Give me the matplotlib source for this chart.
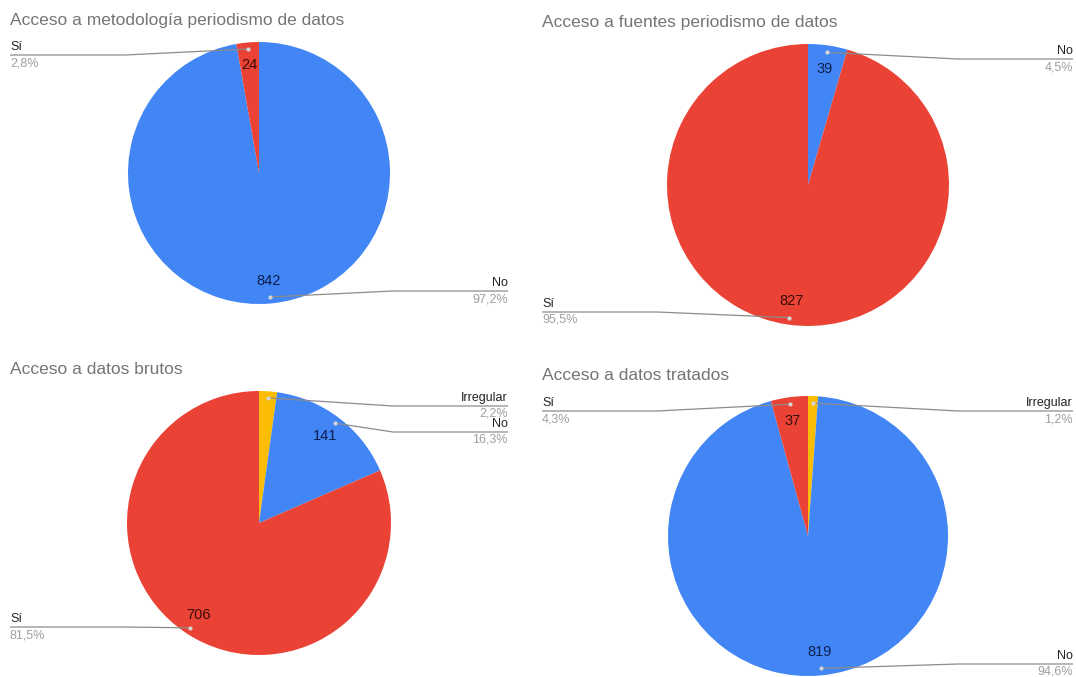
import numpy as np
import matplotlib
matplotlib.use('Agg')
import matplotlib.pyplot as plt

plt.rcParams['font.family'] = ['Liberation Sans', 'DejaVu Sans']

W, H = 1076, 677

# Data
titles = ['Acceso a metodología periodismo de datos',
          'Acceso a fuentes periodismo de datos',
          'Acceso a datos brutos',
          'Acceso a datos tratados']

cats_meto = ['No', 'Sí']
vals_meto = [842, 24]

cats_fuentes = ['No', 'Sí']
vals_fuentes = [39, 827]

cats_brutos = ['Irregular', 'No', 'Sí']
vals_brutos = [19, 141, 706]

cats_tratados = ['Irregular', 'No', 'Sí']
vals_tratados = [10, 819, 37]

colors = {'No': '#4285F4', 'Sí': '#EA4335', 'Irregular': '#FBBC04'}
value_colors = {'No': '#0c1f4d', 'Sí': '#3a0b06', 'Irregular': '#3a2c00'}

# Layout in pixel space (y measured from top)
panels = [
    dict(cats=cats_meto, vals=vals_meto, c=(259, 173), r=131, tx=10, ty=20,
         left=10, right=508, leaders={'Sí': ('l', 55), 'No': ('r', 291)}),
    dict(cats=cats_fuentes, vals=vals_fuentes, c=(808, 185), r=141, tx=542, ty=22,
         left=542, right=1073, leaders={'No': ('r', 59), 'Sí': ('l', 312)}),
    dict(cats=cats_brutos, vals=vals_brutos, c=(259, 523), r=132, tx=10, ty=370,
         left=10, right=508, leaders={'Irregular': ('r', 406), 'No': ('r', 432), 'Sí': ('l', 627)}),
    dict(cats=cats_tratados, vals=vals_tratados, c=(808, 536), r=140, tx=542, ty=376,
         left=542, right=1073, leaders={'Sí': ('l', 411), 'Irregular': ('r', 411), 'No': ('r', 664)}),
]


def fy(y):
    return H - y


fig = plt.figure(figsize=(W / 100, H / 100), dpi=100)
ax = fig.add_axes([0, 0, 1, 1])

for title, p in zip(titles, panels):
    cx, cy = p['c']
    r = p['r']
    total = sum(p['vals'])
    wedges, _ = ax.pie(p['vals'], colors=[colors[c] for c in p['cats']],
                       startangle=90, counterclock=False,
                       center=(cx, fy(cy)), radius=r,
                       wedgeprops=dict(linewidth=0))

    ax.text(p['tx'], fy(p['ty']), title, fontsize=12.5, color='#757575',
            ha='left', va='center')

    for w, cat, val in zip(wedges, p['cats'], p['vals']):
        mid = np.deg2rad((w.theta1 + w.theta2) / 2)
        ux, uy = np.cos(mid), np.sin(mid)
        cyy = fy(cy)

        # value inside slice
        if val / total >= 0.025:
            ax.text(cx + 0.83 * r * ux, cyy + 0.83 * r * uy, str(val),
                    fontsize=10.5, color=value_colors[cat],
                    ha='center', va='center', zorder=5)

        # leader line with outside label
        side, ly = p['leaders'][cat]
        dx, dy = cx + 0.95 * r * ux, cyy + 0.95 * r * uy
        if side == 'l':
            edge, bend, ha = p['left'], p['left'] + 115, 'left'
        else:
            edge, bend, ha = p['right'], p['right'] - 115, 'right'
        ax.plot([edge, bend, dx], [fy(ly), fy(ly), dy], color='#8c8c8c',
                lw=0.9, zorder=3, solid_capstyle='butt')
        ax.plot(dx, dy, 'o', ms=3, color='#d5d5d5', mec='none', zorder=4)
        ax.text(edge, fy(ly - 8), cat, fontsize=9, color='#222222',
                ha=ha, va='center')
        ax.text(edge, fy(ly + 8), f'{100 * val / total:.1f}%'.replace('.', ','),
                fontsize=9, color='#9e9e9e', ha=ha, va='center')

ax.set_xlim(0, W)
ax.set_ylim(0, H)
ax.set_aspect('equal')
ax.axis('off')

fig.savefig('out.png', dpi=100, facecolor='white')
